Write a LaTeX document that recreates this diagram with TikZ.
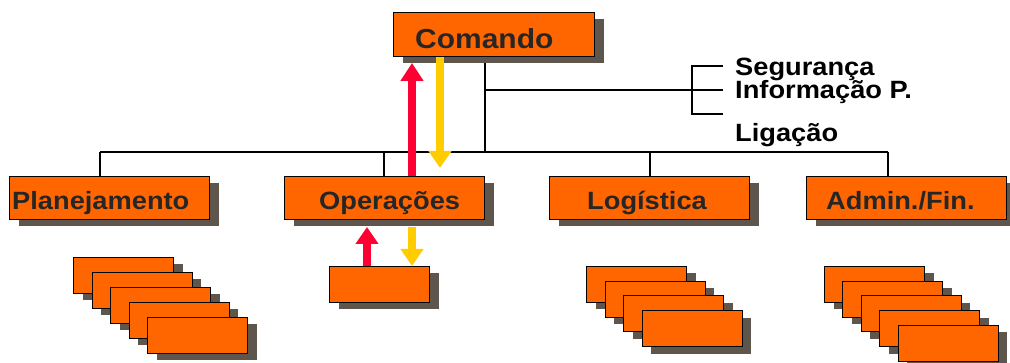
\documentclass[tikz,border=0pt]{standalone}
\usepackage{fontspec}
\setmainfont{Liberation Sans}[FakeStretch=1.09]
\usetikzlibrary{shadows,arrows.meta}
\definecolor{boxor}{HTML}{FF6600}
\definecolor{shadc}{HTML}{5E564C}
\definecolor{txtc}{HTML}{262626}
\definecolor{redar}{HTML}{FF0033}
\definecolor{yelar}{HTML}{FFCC00}
\tikzset{
  obox/.style={draw=black, line width=1pt, fill=boxor, anchor=north west, inner sep=0pt,
    drop shadow={shadow xshift=9pt, shadow yshift=-7pt, fill=shadc, opacity=1}},
  bigbox/.style={obox, minimum width=201pt, minimum height=44pt},
  midbox/.style={obox, minimum width=200pt, minimum height=43pt},
  smallbox/.style={obox, minimum width=100pt, minimum height=36pt},
  boxlbl/.style={anchor=base west, inner sep=0pt, text=txtc, font=\bfseries\fontsize{25}{28}\selectfont},
  sidelbl/.style={anchor=base west, inner sep=0pt, text=black, font=\bfseries\fontsize{25}{28}\selectfont},
  conn/.style={draw=black, line width=1.4pt},
  redarrow/.style={draw=redar, line width=8pt, -{Triangle[width=22pt,length=18pt]}},
  yelarrow/.style={draw=yelar, line width=8pt, -{Triangle[width=22pt,length=17pt]}},
}
\begin{document}
\begin{tikzpicture}[x=1pt,y=-1pt]
\useasboundingbox (0,0) rectangle (1010,363);
% coordinates for connectors
\coordinate (top) at (485,56);
\coordinate (j1) at (485,90);
\coordinate (bus) at (485,152);
\coordinate (busL) at (100,152);
\coordinate (busR) at (888,152);
\coordinate (br1) at (723,66);
\coordinate (br2) at (723,90);
\coordinate (br3) at (723,114);
\coordinate (brx) at (692,90);
% connectors
\draw[conn] (top) -- (bus);
\draw[conn] (busL) -- (busR);
\draw[conn] (j1) -- (br2);
\draw[conn] (br1) -- (br1 -| brx) -- (br3 -| brx) -- (br3);
\coordinate (d1) at (100,176);
\coordinate (d2) at (384,176);
\coordinate (d3) at (650,176);
\coordinate (d4) at (888,176);
\draw[conn] (busL) -- (d1);
\draw[conn] (bus -| d2) -- (d2);
\draw[conn] (bus -| d3) -- (d3);
\draw[conn] (busR) -- (d4);
% boxes
\node[bigbox] (cmd) at (393,12) {};
\node[midbox] (plan) at (9,176) {};
\node[midbox] (ops) at (284,176) {};
\node[midbox] (log) at (549,176) {};
\node[midbox] (adm) at (806,176) {};
\node[smallbox] (sub) at (329,266) {};
% stacks
\foreach \k in {0,...,4} {
  \node[smallbox] (p\k) at (73+18.5*\k, 257+15*\k) {};
}
\foreach \k in {0,...,3} {
  \node[smallbox] (l\k) at (586+18.5*\k, 266+14.7*\k) {};
}
\foreach \k in {0,...,4} {
  \node[smallbox] (a\k) at (824+18.4*\k, 266+14.7*\k) {};
}
% labels
\node[boxlbl, font=\bfseries\fontsize{27.5}{30}\selectfont] (tcmd) at (415,49) {Comando};
\node[boxlbl] (tplan) at (12,210) {Planejamento};
\node[boxlbl] (tops) at (319,210) {Operações};
\node[boxlbl] (tlog) at (587,210) {Logística};
\node[boxlbl] (tadm) at (826,210) {Admin./Fin.};
\node[sidelbl] (s1) at (735,76) {Segurança};
\node[sidelbl] (s2) at (735,99) {Informação P.};
\node[sidelbl] (s3) at (735,142) {Ligação};
% arrows
\coordinate (ra1) at (412,63);
\coordinate (ya1) at (440,168);
\coordinate (ra2) at (367,227);
\coordinate (ya2) at (412,266);
\draw[redarrow] (ops.north -| ra1) -- (ra1);
\draw[yelarrow] (cmd.south -| ya1) -- (ya1);
\draw[redarrow, -{Triangle[width=22pt,length=17pt]}] (sub.north -| ra2) -- (ra2);
\draw[yelarrow] (ops.south -| ya2) ++(0,7) -- (ya2);
\end{tikzpicture}
\end{document}
